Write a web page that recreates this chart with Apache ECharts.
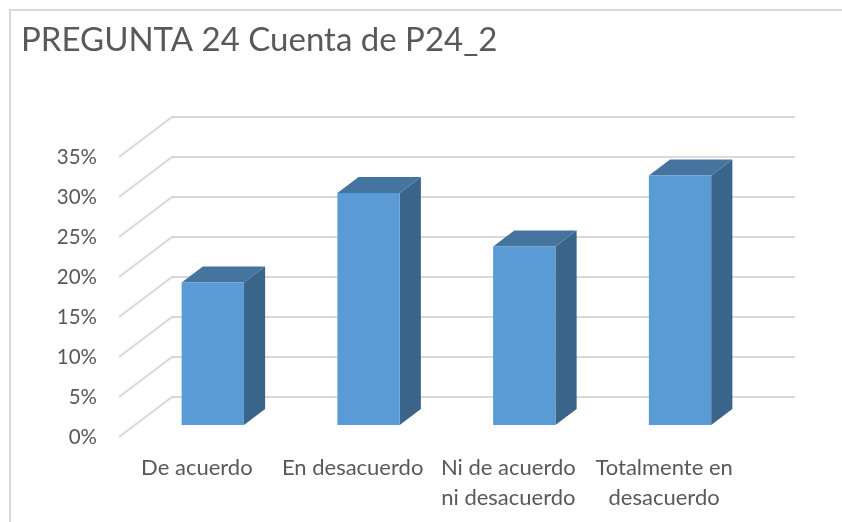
<!DOCTYPE html>
<html>
<head>
<meta charset="utf-8">
<style>
  html, body { margin: 0; padding: 0; background: #fff; }
  #chart { width: 842px; height: 522px; }
</style>
<script src="https://cdn.jsdelivr.net/npm/echarts@6/dist/echarts.min.js"></script>
</head>
<body>
<div id="chart"></div>
<script>
var titleText = "PREGUNTA 24 Cuenta de P24_2";
var categories = ["De acuerdo", "En desacuerdo", "Ni de acuerdo\nni desacuerdo", "Totalmente en\ndesacuerdo"];
var values = [17.8, 29, 22.3, 31.2];
var yTicks = [0, 5, 10, 15, 20, 25, 30, 35];

// depth of the fake 3d floor, in pixels
var depthX = 53;
var depthY = 40;
var barStart = 0.3;
var barDepth = 0.4;
var fontName = "Lato, Carlito, sans-serif";

var chart = echarts.init(document.getElementById("chart"));

function renderGridLine(params, api) {
  var p = api.coord([0, api.value(1)]);
  var box = params.coordSys;
  return {
    type: "polyline",
    shape: {
      points: [
        [box.x, p[1]],
        [box.x + depthX, p[1] - depthY],
        [box.x + box.width + depthX, p[1] - depthY]
      ]
    },
    style: { fill: null, stroke: "#d9d9d9", lineWidth: 2 },
    silent: true
  };
}

function renderBar(params, api) {
  var top = api.coord([api.value(0), api.value(1)]);
  var base = api.coord([api.value(0), 0]);
  var w = api.size([1, 0])[0] * 0.4;
  var l = top[0] - w / 2 + depthX * barStart;
  var r = l + w;
  var t = top[1] - depthY * barStart;
  var b = base[1] - depthY * barStart;
  var dx = depthX * barDepth;
  var dy = depthY * barDepth;
  return {
    type: "group",
    children: [
      {
        type: "polygon",
        shape: { points: [[r, t], [r + dx, t - dy], [r + dx, b - dy], [r, b]] },
        style: { fill: "#3a6489" }
      },
      {
        type: "polygon",
        shape: { points: [[l, t], [l + dx, t - dy], [r + dx, t - dy], [r, t]] },
        style: { fill: "#45759f" }
      },
      {
        type: "rect",
        shape: { x: l, y: t, width: w, height: b - t },
        style: { fill: "#5b9bd5" }
      }
    ]
  };
}

chart.setOption({
  animation: false,
  backgroundColor: "#fff",
  title: {
    text: titleText,
    left: 16,
    top: 19,
    textStyle: { fontFamily: fontName, fontSize: 33, fontWeight: "normal", color: "#595959" }
  },
  graphic: [
    {
      type: "rect",
      shape: { x: 10, y: 10, width: 850, height: 530 },
      style: { fill: null, stroke: "#d9d9d9", lineWidth: 2 },
      silent: true
    }
  ],
  grid: { left: 119, top: 157, width: 623, height: 280 },
  xAxis: {
    type: "category",
    data: categories,
    axisLine: { show: false },
    axisTick: { show: false },
    axisLabel: {
      interval: 0,
      margin: 16,
      fontFamily: fontName,
      fontSize: 22,
      lineHeight: 30,
      color: "#595959"
    }
  },
  yAxis: {
    type: "value",
    min: 0,
    max: 35,
    interval: 5,
    axisLine: { show: false },
    axisTick: { show: false },
    splitLine: { show: false },
    axisLabel: {
      margin: 22,
      padding: [4, 0, 0, 0],
      formatter: "{value}%",
      fontFamily: fontName,
      fontSize: 20.5,
      color: "#595959"
    }
  },
  series: [
    {
      type: "custom",
      z: 1,
      clip: false,
      renderItem: renderGridLine,
      data: yTicks.map(function (t) { return [0, t]; })
    },
    {
      type: "custom",
      z: 2,
      clip: false,
      renderItem: renderBar,
      data: values.map(function (v, i) { return [i, v]; })
    }
  ]
});
</script>
</body>
</html>
